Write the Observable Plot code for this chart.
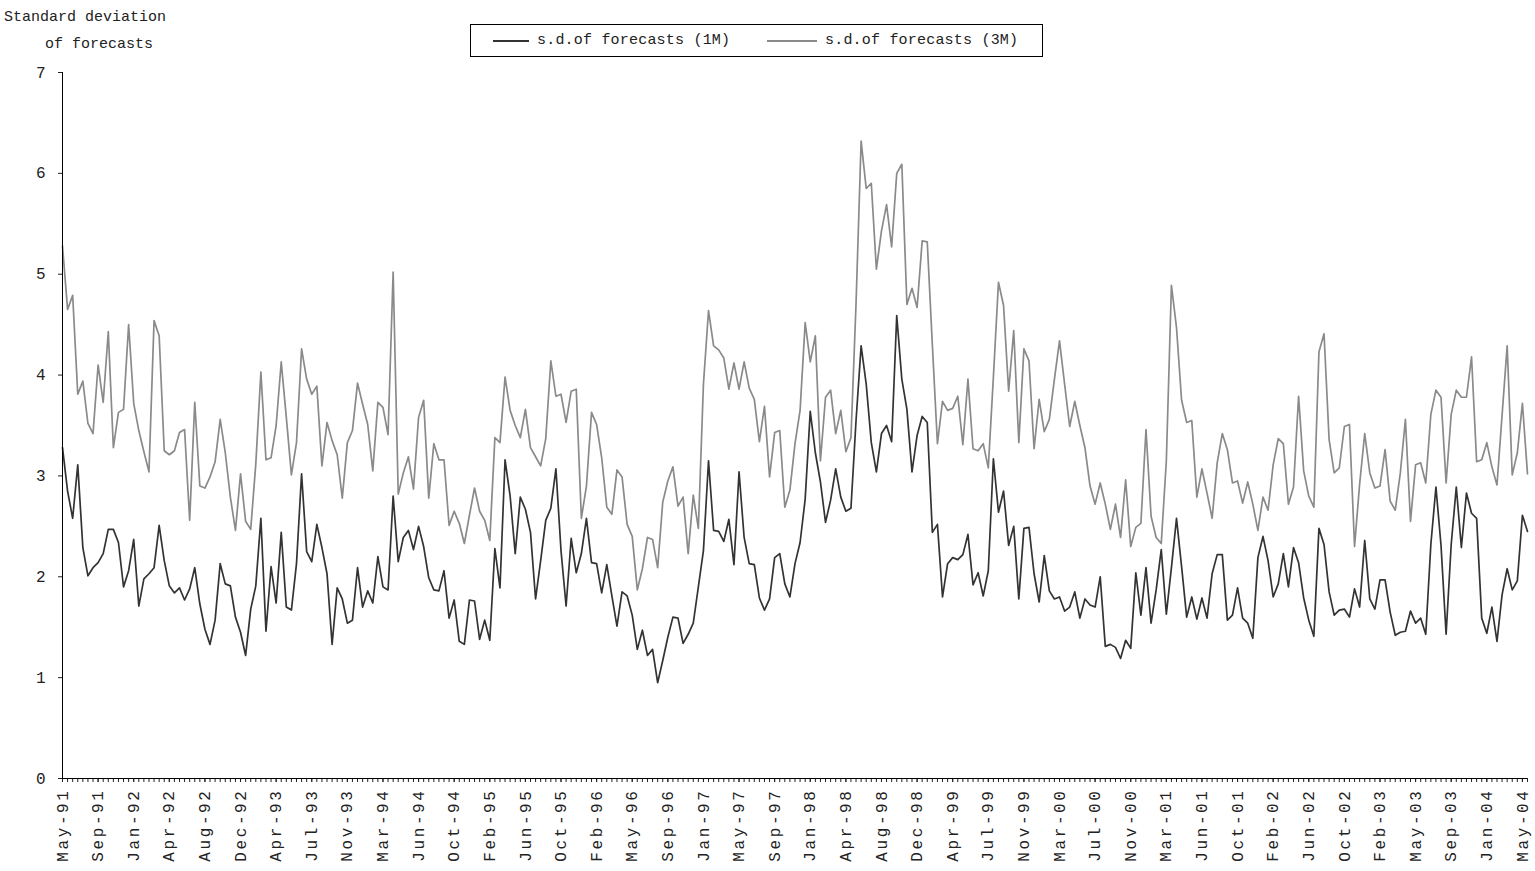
<!DOCTYPE html>
<html>
<head>
<meta charset="utf-8">
<script src="https://cdn.jsdelivr.net/npm/d3@7"></script>
<script src="https://cdn.jsdelivr.net/npm/@observablehq/plot@0.6"></script>
<style>
  body { margin: 0; background: #fff; }
  #wrap { position: relative; width: 1535px; height: 871px; font-family: "Liberation Mono", "DejaVu Sans Mono", monospace; color: #222; }
  #title { position: absolute; left: 4px; top: 4px; font-size: 15px; line-height: 27px; letter-spacing: 0px; }
  #title div:nth-child(2) { padding-left: 41px; }
  #legend { position: absolute; left: 470px; top: 24px; width: 573px; height: 33px; border: 1px solid #000; box-sizing: border-box; font-size: 15px; letter-spacing: 0.2px; }
  .item { position: absolute; top: 0; height: 31px; display: flex; align-items: center; white-space: nowrap; }
  .sw { display: inline-block; width: 36px; height: 0; border-top: 2px solid; margin-right: 8px; }
  #chart { position: absolute; left: 0; top: 0; }
  #chart svg text { letter-spacing: 0px; }
  #chart g.xlab text { letter-spacing: 2.6px; }
</style>
</head>
<body>
<div id="wrap">
  <div id="chart"></div>
  <div id="title"><div>Standard deviation</div><div>of forecasts</div></div>
  <div id="legend"></div>
</div>
<script>
// x-axis tick labels, one every 7 observations
const labels = ["May-91","Sep-91","Jan-92","Apr-92","Aug-92","Dec-92","Apr-93","Jul-93","Nov-93","Mar-94",
  "Jun-94","Oct-94","Feb-95","Jun-95","Oct-95","Feb-96","May-96","Sep-96","Jan-97","May-97",
  "Sep-97","Jan-98","Apr-98","Aug-98","Dec-98","Apr-99","Jul-99","Nov-99","Mar-00","Jul-00",
  "Nov-00","Mar-01","Jun-01","Oct-01","Feb-02","Jun-02","Oct-02","Feb-03","May-03","Sep-03",
  "Jan-04","May-04"];
const labelStep = 7;
const yTicks = [0, 1, 2, 3, 4, 5, 6, 7];
const seriesNames = ["s.d.of forecasts (1M)", "s.d.of forecasts (3M)"];
const seriesColors = ["#333333", "#8a8a8a"];

// s.d. of forecasts, 1-month horizon
const sd1M = [
  3.28,2.85,2.58,3.11,2.29,2.01,2.09,2.14,2.23,2.47,2.47,2.34,1.90,2.06,2.37,1.71,1.98,2.03,2.09,2.51,2.16,1.91,1.84,1.89,1.77,1.88,2.09,1.73,1.48,
  1.33,1.57,2.13,1.93,1.91,1.60,1.45,1.22,1.68,1.91,2.58,1.46,2.10,1.74,2.44,1.70,1.67,2.13,3.02,2.25,2.15,2.52,2.29,2.03,1.33,1.89,1.78,1.54,
  1.57,2.09,1.70,1.86,1.74,2.20,1.90,1.87,2.80,2.15,2.39,2.46,2.27,2.50,2.30,1.99,1.87,1.86,2.06,1.59,1.77,1.36,1.33,1.77,1.76,1.38,1.57,1.37,2.28,
  1.89,3.16,2.80,2.23,2.79,2.67,2.44,1.78,2.16,2.56,2.68,3.07,2.26,1.71,2.38,2.04,2.23,2.58,2.14,2.13,1.84,2.12,1.81,1.51,1.85,1.81,1.62,1.28,
  1.47,1.22,1.28,0.95,1.17,1.40,1.60,1.59,1.34,1.43,1.54,1.90,2.26,3.15,2.46,2.45,2.35,2.57,2.12,3.04,2.39,2.13,2.12,1.79,1.67,1.78,2.19,2.23,1.93,
  1.80,2.13,2.34,2.77,3.64,3.23,2.94,2.54,2.76,3.07,2.79,2.65,2.68,3.55,4.29,3.91,3.33,3.04,3.42,3.50,3.34,4.59,3.96,3.66,3.04,3.40,3.59,3.53,
  2.44,2.52,1.80,2.13,2.19,2.17,2.22,2.42,1.92,2.04,1.81,2.06,3.17,2.64,2.85,2.31,2.50,1.78,2.48,2.49,2.03,1.75,2.21,1.86,1.78,1.80,1.66,1.70,1.85,
  1.59,1.78,1.72,1.70,2.00,1.31,1.33,1.30,1.19,1.37,1.29,2.04,1.62,2.09,1.54,1.87,2.27,1.63,2.09,2.58,2.10,1.60,1.80,1.58,1.79,1.59,2.03,2.22,
  2.22,1.57,1.62,1.89,1.59,1.54,1.39,2.19,2.40,2.16,1.80,1.93,2.23,1.90,2.29,2.14,1.79,1.57,1.41,2.48,2.32,1.85,1.62,1.67,1.68,1.60,1.88,1.70,2.36,
  1.78,1.68,1.97,1.97,1.65,1.42,1.45,1.46,1.66,1.54,1.59,1.43,2.32,2.89,2.31,1.43,2.32,2.89,2.29,2.83,2.63,2.58,1.59,1.44,1.70,1.36,1.82,2.08,1.87,1.96,2.61,2.45
];

// s.d. of forecasts, 3-month horizon
const sd3M = [
  5.28,4.65,4.79,3.81,3.94,3.52,3.42,4.10,3.73,4.43,3.28,3.63,3.66,4.50,3.72,3.45,3.24,3.04,4.54,4.39,3.25,3.21,3.25,3.43,3.46,2.56,3.73,2.90,2.88,
  2.99,3.14,3.56,3.23,2.79,2.46,3.02,2.55,2.47,3.12,4.03,3.16,3.18,3.50,4.13,3.58,3.01,3.33,4.26,3.96,3.81,3.89,3.10,3.53,3.35,3.21,2.78,3.33,
  3.45,3.92,3.71,3.51,3.05,3.73,3.68,3.41,5.02,2.82,3.03,3.19,2.87,3.58,3.75,2.78,3.32,3.16,3.16,2.51,2.65,2.53,2.33,2.61,2.88,2.65,2.56,2.36,3.38,
  3.33,3.98,3.65,3.50,3.38,3.66,3.28,3.19,3.10,3.37,4.14,3.79,3.81,3.53,3.84,3.86,2.58,2.90,3.63,3.51,3.18,2.69,2.62,3.06,2.99,2.52,2.40,1.87,
  2.08,2.39,2.37,2.09,2.74,2.95,3.09,2.70,2.79,2.23,2.81,2.48,3.91,4.64,4.29,4.25,4.17,3.86,4.12,3.86,4.13,3.87,3.76,3.34,3.69,2.99,3.43,3.45,2.69,
  2.86,3.32,3.65,4.52,4.13,4.39,3.15,3.78,3.85,3.42,3.65,3.24,3.38,4.71,6.32,5.85,5.90,5.05,5.43,5.69,5.27,6.00,6.09,4.70,4.86,4.67,5.33,5.32,
  4.30,3.32,3.74,3.65,3.67,3.79,3.31,3.96,3.27,3.25,3.32,3.08,3.98,4.92,4.69,3.84,4.44,3.33,4.26,4.14,3.27,3.76,3.44,3.56,3.96,4.34,3.91,3.49,3.74,
  3.50,3.28,2.90,2.72,2.93,2.72,2.47,2.72,2.39,2.96,2.30,2.49,2.53,3.46,2.60,2.39,2.33,3.15,4.89,4.47,3.75,3.53,3.55,2.79,3.07,2.83,2.58,3.13,
  3.42,3.26,2.93,2.95,2.73,2.94,2.72,2.46,2.79,2.66,3.11,3.37,3.32,2.72,2.89,3.79,3.05,2.80,2.69,4.23,4.41,3.36,3.03,3.08,3.49,3.51,2.30,2.92,3.42,
  3.03,2.88,2.90,3.26,2.75,2.66,3.03,3.56,2.55,3.11,3.13,2.93,3.61,3.85,3.78,2.93,3.61,3.85,3.78,3.78,4.18,3.14,3.16,3.33,3.09,2.91,3.60,4.29,3.01,3.23,3.72,3.02
];

const n = sd1M.length;
const idx = d3.range(n);
const labelIdx = labels.map((_, k) => k * labelStep);

const chart = Plot.plot({
  width: 1535,
  height: 871,
  marginLeft: 62,
  marginRight: 8,
  marginTop: 72,
  marginBottom: 93,
  x: { type: "linear", domain: [0, n - 1] },
  y: { domain: [0, 7] },
  style: { fontFamily: "'Liberation Mono', monospace", fontSize: "14px", color: "#222", background: "transparent" },
  marks: [
    Plot.axisY({ ticks: yTicks, tickSize: 4, tickPadding: 13, label: null, fontSize: 16, tickFormat: (d) => String(d) }),
    Plot.axisX({ ticks: idx, tickSize: 4, tickFormat: () => "", label: null }),
    Plot.axisX({ ticks: labelIdx, tickSize: 4, tickPadding: 6, tickRotate: -90, label: null,
                 tickFormat: (i) => labels[Math.round(i / labelStep)], className: "xlab", fontSize: 16 }),
    Plot.line(sd3M, { x: (d, i) => i, y: (d) => d, stroke: seriesColors[1], strokeWidth: 1.7 }),
    Plot.line(sd1M, { x: (d, i) => i, y: (d) => d, stroke: seriesColors[0], strokeWidth: 1.7 }),
    Plot.ruleY([0], { stroke: "#000", strokeWidth: 1 }),
    Plot.ruleX([0], { stroke: "#000", strokeWidth: 1 })
  ]
});
document.getElementById("chart").appendChild(chart);

// legend
const legend = document.getElementById("legend");
const lefts = [22, 296];
seriesNames.forEach((name, k) => {
  const it = document.createElement("div");
  it.className = "item";
  it.style.left = lefts[k] + "px";
  const sw = document.createElement("span");
  sw.className = "sw";
  sw.style.borderTopColor = seriesColors[k];
  sw.style.width = (k === 0 ? 36 : 50) + "px";
  it.appendChild(sw);
  it.appendChild(document.createTextNode(name));
  legend.appendChild(it);
});
</script>
</body>
</html>
